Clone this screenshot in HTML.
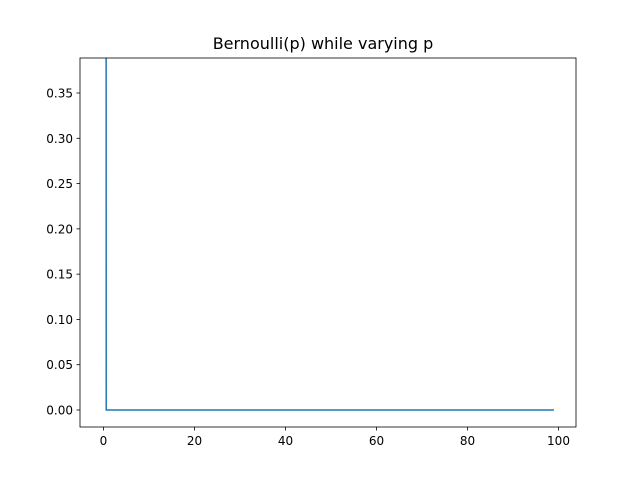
<!DOCTYPE html>
<html><head><meta charset="utf-8"><style>body{margin:0;background:#fff}svg{font-family:"DejaVu Sans","Liberation Sans",sans-serif}</style></head>
<body>
<svg id="c" width="640" height="480">
<defs><clipPath id="clip"><rect x="80" y="58" width="496" height="369"/></clipPath></defs>
<rect x="0" y="0" width="640" height="480" fill="#fff"/>
<text x="323" y="49" text-anchor="middle" font-size="16">Bernoulli(p) while varying p</text>
<g id="axes"></g>
<path id="line" fill="none" stroke="#1f77b4" stroke-width="1.5" clip-path="url(#clip)"/>
<rect x="80" y="58" width="496" height="369" fill="none" stroke="#000" stroke-width="0.8"/>
</svg>
<script>
const xTicks=[0,20,40,60,80,100];
const yTicks=[0.00,0.05,0.10,0.15,0.20,0.25,0.30,0.35];
const xStart=[0.35,0.6];
const firstValue=[5.0];
const restValue=[0];
const lastX=99;
function sx(v){return 103.5+4.55*v;}
function sy(v){return 410-905.7*v;}
const NS="http://www.w3.org/2000/svg";
const ax=document.getElementById('axes');
function mk(t,a){const e=document.createElementNS(NS,t);for(const k in a)e.setAttribute(k,a[k]);return e;}
xTicks.forEach(v=>{
 if(sx(v)>576)return;
 const t=mk('line',{x1:sx(v),x2:sx(v),y1:427,y2:430.5,stroke:'#000','stroke-width':0.8});
 
 
 ax.appendChild(t);
 const l=mk('text',{x:sx(v),y:445,'text-anchor':'middle','font-size':12});
 l.textContent=v;
 
 
 ax.appendChild(l);
});
yTicks.forEach(v=>{
 const t=mk('line',{x1:76.5,x2:80,y1:sy(v),y2:sy(v),stroke:'#000','stroke-width':0.8});
 
 
 ax.appendChild(t);
 const l=mk('text',{x:73,y:sy(v)+4.5,'text-anchor':'end','font-size':12});
 l.textContent=v.toFixed(2);
 
 
 ax.appendChild(l);
});
const pts=[[xStart[0],firstValue[0]],[xStart[1],restValue[0]]];
for(let i=1;i<=lastX;i++)pts.push([i,restValue[0]]);
document.getElementById('line').setAttribute('d',pts.map((p,i)=>(i?'L':'M')+sx(p[0])+','+sy(p[1])).join(''));
</script>
</body></html>
